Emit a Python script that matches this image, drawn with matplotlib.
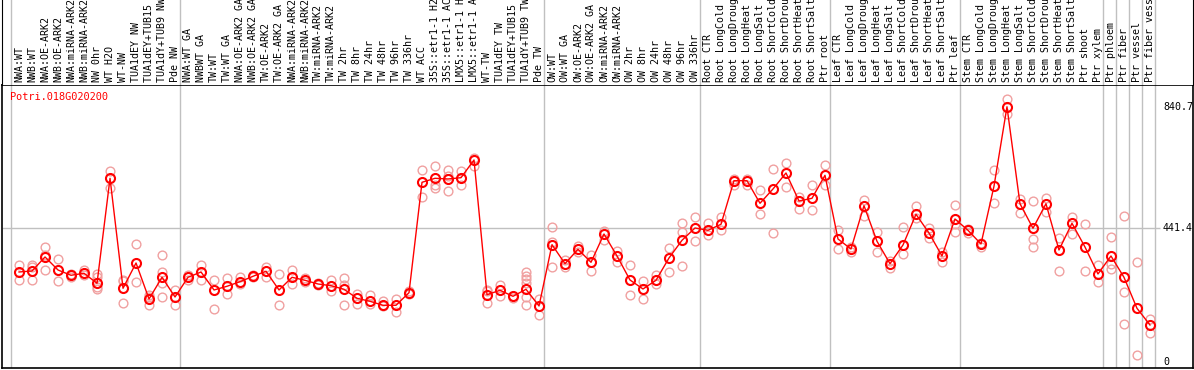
import matplotlib
matplotlib.use("Agg")
import matplotlib.pyplot as plt

gene = "Potri.018G020200"

labels = [
    "NWA:WT", "NWB:WT", "NWA:OE-ARK2", "NWB:OE-ARK2", "NWA:miRNA-ARK2",
    "NWB:miRNA-ARK2", "NW 0hr", "WT H2O", "WT-NW", "TUA1dEY NW",
    "TUA1dEY+TUB15 NW", "TUA1dY+TUB9 NW", "Pde NW",
    "NWA:WT GA", "NWBWT GA", "TW:WT", "TW:WT GA", "NWA:OE-ARK2 GA",
    "NWB:OE-ARK2 GA", "TW:OE-ARK2", "TW:OE-ARK2 GA", "NWA:miRNA-ARK2",
    "NWB:miRNA-ARK2", "TW:miRNA-ARK2", "TW:miRNA-ARK2", "TW 2hr", "TW 8hr",
    "TW 24hr", "TW 48hr", "TW 96hr", "TW 336hr", "WT ACC", "35S::etr1-1 H2O",
    "35S::etr1-1 ACC", "LMX5::etr1-1 H2O", "LMX5::etr1-1 ACC", "WT-TW",
    "TUA1dEY TW", "TUA1dEY+TUB15 TW", "TUA1dY+TUB9 TW", "Pde TW",
    "OW:WT", "OW:WT GA", "OW:OE-ARK2", "OW:OE-ARK2 GA", "OW:miRNA-ARK2",
    "OW:miRNA-ARK2", "OW 2hr", "OW 8hr", "OW 24hr", "OW 48hr", "OW 96hr",
    "OW 336hr",
    "Root CTR", "Root LongCold", "Root LongDrought", "Root LongHeat",
    "Root LongSalt", "Root ShortCold", "Root ShortDrought", "Root ShortHeat",
    "Root ShortSalt", "Ptr root",
    "Leaf CTR", "Leaf LongCold", "Leaf LongDrought", "Leaf LongHeat",
    "Leaf LongSalt", "Leaf ShortCold", "Leaf ShortDrought", "Leaf ShortHeat",
    "Leaf ShortSalt", "Ptr leaf",
    "Stem CTR", "Stem LongCold", "Stem LongDrought", "Stem LongHeat",
    "Stem LongSalt", "Stem ShortCold", "Stem ShortDrought", "Stem ShortHeat",
    "Stem ShortSalt", "Ptr shoot", "Ptr xylem", "Ptr phloem", "Ptr fiber",
    "Ptr vessel", "Ptr fiber vessel",
]

means = [
    296.5, 299.8, 345.9, 303, 285.6, 292.2, 259.2, 605.1, 242.8, 326.1, 207.5, 279, 214.1,
    279, 296.5, 237.2, 249.4, 264.5, 282.3, 298.8, 237.2, 279, 269.1, 256.9, 251.3, 239.5,
    209.8, 199.9, 186.8, 186.8, 228.3, 591.9, 605.1, 602.8, 607.1, 665.4, 221.7, 236.2,
    216.4, 239.5, 184.5,
    386.4, 323.8, 371.2, 328.4, 421.6, 349.2, 270.1, 240.5, 269.1, 342.6, 400.9, 441.4,
    433.8, 453.6, 597.2, 597.2, 522.8, 569.9, 622.6, 530.3, 539.2, 615,
    405.2, 372.2, 514.9, 397.6, 323.8, 385.4, 486.5, 424.9, 349.2, 471,
    433.8, 388.7, 578.8, 840.7, 521.4, 440.4, 521.4, 368.9, 456.9, 378.8, 289.9, 349.2,
    279, 176.9, 121.9,
]

reps = [
    [318, 269], [318, 313, 269], [380, 354, 302], [338, 266], [289, 279], [302, 285],
    [289, 279, 246, 239], [630, 572], [269, 266, 194], [390, 262], [220, 213, 187],
    [354, 298, 259, 213], [236, 187],
    [285, 269], [321, 269], [269, 174], [276, 223], [280, 256], [285, 279], [313, 280],
    [289, 187], [302, 256], [276, 262], [259, 253], [269, 234], [276, 253, 187],
    [223, 190], [221, 190], [201, 184], [207, 165], [233, 223], [634, 543],
    [646, 583, 573], [633, 613, 564], [629, 583], [673, 646], [238, 233, 193],
    [255, 217], [219, 212], [295, 283, 272, 260, 214, 189], [207, 156],
    [446, 395, 312], [335, 313], [381, 362], [354, 301], [433, 403], [364, 329],
    [321, 220], [268, 206], [285, 258], [374, 298], [459, 429, 315], [479, 399],
    [459, 417], [479, 435], [604, 582], [604, 582], [567, 488], [635, 425], [655, 576],
    [544, 504], [583, 501], [648, 583],
    [435, 371], [378, 362], [532, 480], [429, 363], [332, 309], [444, 357], [515, 473],
    [443, 408], [362, 329], [518, 455, 429],
    [437, 424], [393, 378], [633, 524], [865, 816], [537, 492], [530, 406, 380],
    [541, 493], [408, 301], [476, 422], [455, 301], [319, 263], [413, 322, 307],
    [481, 232, 124], [330, 23], [143, 95],
]

group_starts = [0, 13, 41, 53, 63, 73, 84, 85, 86, 87, 88]
ytick_vals = [0, 441.4, 840.7]

W, H = 1194, 370
mono = "DejaVu Sans Mono"
grid_c = "#c0c0c0"
rep_c = "#f0a0a0"

fig = plt.figure(figsize=(W / 100, H / 100), dpi=100)
ax = fig.add_axes([2 / W, 2 / H, 1191 / W, 283 / H])
hx = fig.add_axes([2 / W, 285 / H, 1191 / W, 85 / H])

xlim = (-1.31, 90.31)
for a in (ax, hx):
    a.set_xlim(*xlim)
    a.set_xticks([])
    a.set_yticks([])
    for g in group_starts:
        a.axvline(g - 0.62, color=grid_c, lw=1, zorder=0)

ax.set_ylim(-19.8, 912.4)
hx.set_ylim(0, 1)

# header: keep only the side lines, the plot frame gives the separator
hx.spines["top"].set_visible(False)
hx.spines["bottom"].set_visible(False)
for s in ax.spines.values():
    s.set_color("black")
    s.set_linewidth(1.2)

ax.hlines(441.4, xlim[0], 87.77, color=grid_c, lw=1, zorder=0)

for i, r in enumerate(reps):
    ax.plot([i] * len(r), r, "o", mfc="none", mec=rep_c, ms=6.3, mew=1.0, zorder=2)

x = list(range(len(means)))
ax.plot(x, means, "-", color="red", lw=1, zorder=3)
ax.plot(x, means, "o", mfc="none", mec="red", ms=6.5, mew=1.5, zorder=4)

for i, lab in enumerate(labels):
    hx.text(i, 0.035, lab, rotation=90, ha="center", va="bottom",
            family=mono, fontsize=7.2, color="black")

for v in ytick_vals:
    ax.text(88.0, v, f"{v:g}", ha="left", va="center", family=mono,
            fontsize=7.2, color="black")

fig.text(10 / W, 1 - 97 / H, gene, ha="left", va="center", family=mono,
         fontsize=7.4, color="red")

fig.savefig("out.png", dpi=100)
